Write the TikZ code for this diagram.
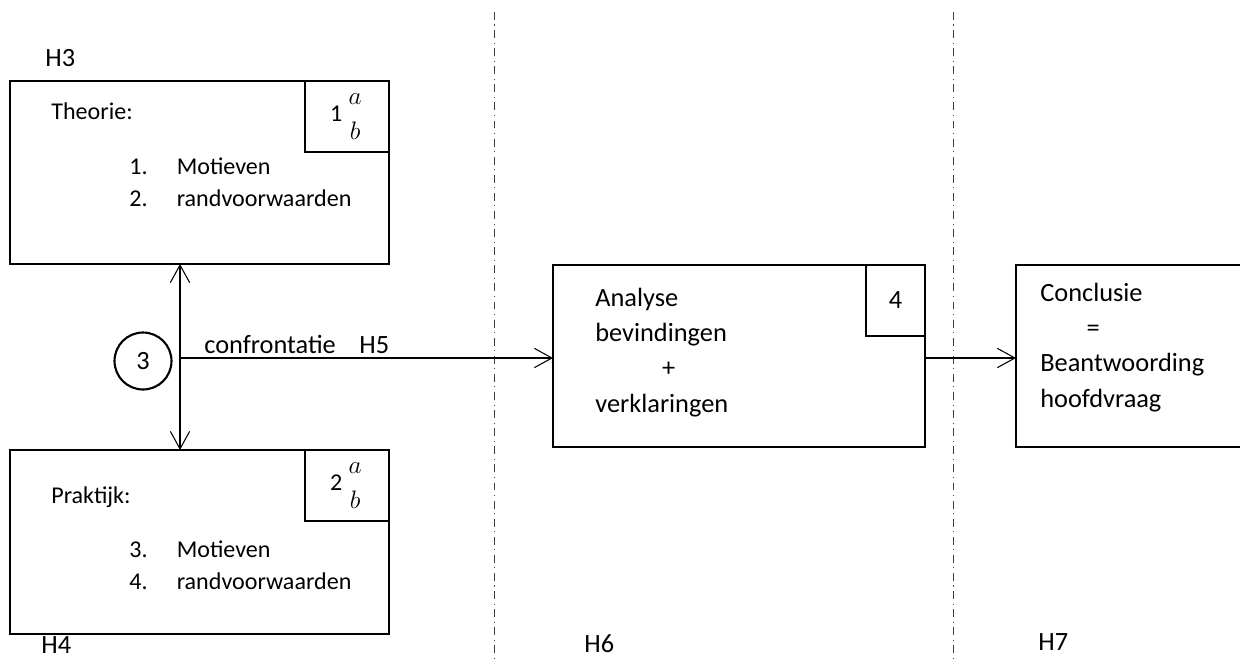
\documentclass[tikz,border=0pt]{standalone}
\usepackage{amsmath}
\usepackage{fontspec}
\setmainfont{Carlito}
\usetikzlibrary{arrows.meta}

\newcommand{\txtbig}{\fontsize{15}{20}\selectfont}
\newcommand{\txtsmall}{\fontsize{13.7}{17.9}\selectfont}

\begin{document}
\begin{tikzpicture}[x=0.02cm, y=-0.02cm, >={Straight Barb[length=10pt, width=11pt]},
    box/.style={draw, rectangle, line width=1.2pt, inner sep=0pt, outer sep=0pt, anchor=north west},
    numbox/.style={draw, rectangle, line width=1.2pt, inner sep=0pt, outer sep=0pt, anchor=north east},
    txt/.style={inner sep=0pt, anchor=base west, align=left, font=\txtbig},
    boxtxt/.style={inner sep=0pt, anchor=base west, align=left, font=\txtsmall},
    link/.style={line width=0.6pt},
    divider/.style={line width=0.5pt, black!75, dash pattern=on 4.5pt off 2.6pt on 0.6pt off 2.6pt}]
    \useasboundingbox (0,0) rectangle (1240,659);

    % Nodes (multi-line texts are placed by the baseline of their last line)
    \node[box, minimum width=7.58cm, minimum height=3.66cm] (theorie) at (10,81) {};
    \node[numbox, minimum width=1.68cm, minimum height=1.42cm, font=\txtsmall] (theorienr) at (theorie.north east) {1\,$\genfrac{}{}{0pt}{0}{a}{b}$};
    \node[boxtxt] (theorietitel) at (51,119) {Theorie:};
    \node[boxtxt] (theorielijst) at (129,206) {\makebox[27pt][l]{1.}Motieven\\\makebox[27pt][l]{2.}randvoorwaarden};

    \node[box, minimum width=7.58cm, minimum height=3.68cm] (praktijk) at (10,450) {};
    \node[numbox, minimum width=1.68cm, minimum height=1.42cm, font=\txtsmall] (praktijknr) at (praktijk.north east) {2\,$\genfrac{}{}{0pt}{0}{a}{b}$};
    \node[boxtxt] (praktijktitel) at (51,503) {Praktijk:};
    \node[boxtxt] (praktijklijst) at (129,589) {\makebox[27pt][l]{3.}Motieven\\\makebox[27pt][l]{4.}randvoorwaarden};

    \node[draw, circle, line width=1.2pt, minimum size=1.14cm, inner sep=0pt, font=\txtbig] (stap) at (143,361) {3};
    \coordinate (split) at (180,358);

    \node[box, minimum width=7.44cm, minimum height=3.64cm] (analyse) at (553,265) {};
    \node[numbox, minimum width=1.18cm, minimum height=1.42cm, font=\txtbig] (analysenr) at (analyse.north east) {4};
    \node[txt] (analysetekst) at (595,412) {Analyse\\bevindingen\\\hspace*{38pt}+\\verklaringen};

    \node[box, minimum width=4.8cm, minimum height=3.64cm] (conclusie) at (1016,265) {};
    \node[txt] (conclusietekst) at (1040,407) {Conclusie\\\hspace*{26.4pt}=\\Beantwoording\\hoofdvraag};

    % Chapter labels
    \node[txt] (h3) at (45,66) {H3};
    \node[txt] (h4) at (41,653) {H4};
    \node[txt] (confrontatie) at (204,353) {confrontatie};
    \node[txt] (h5) at (359,353) {H5};
    \node[txt] (h6) at (584,652) {H6};
    \node[txt] (h7) at (1038,650) {H7};

    % Dividers
    \draw[divider] (494,12) -- (494,659);
    \draw[divider] (953,12) -- (953,659);

    % Arrows
    \draw[link, <->] (split |- theorie.south) -- (split |- praktijk.north);
    \draw[link, ->] (split) -- (split -| analyse.west);
    \draw[link, ->] (analyse.east |- split) -- (conclusie.west |- split);
\end{tikzpicture}
\end{document}
